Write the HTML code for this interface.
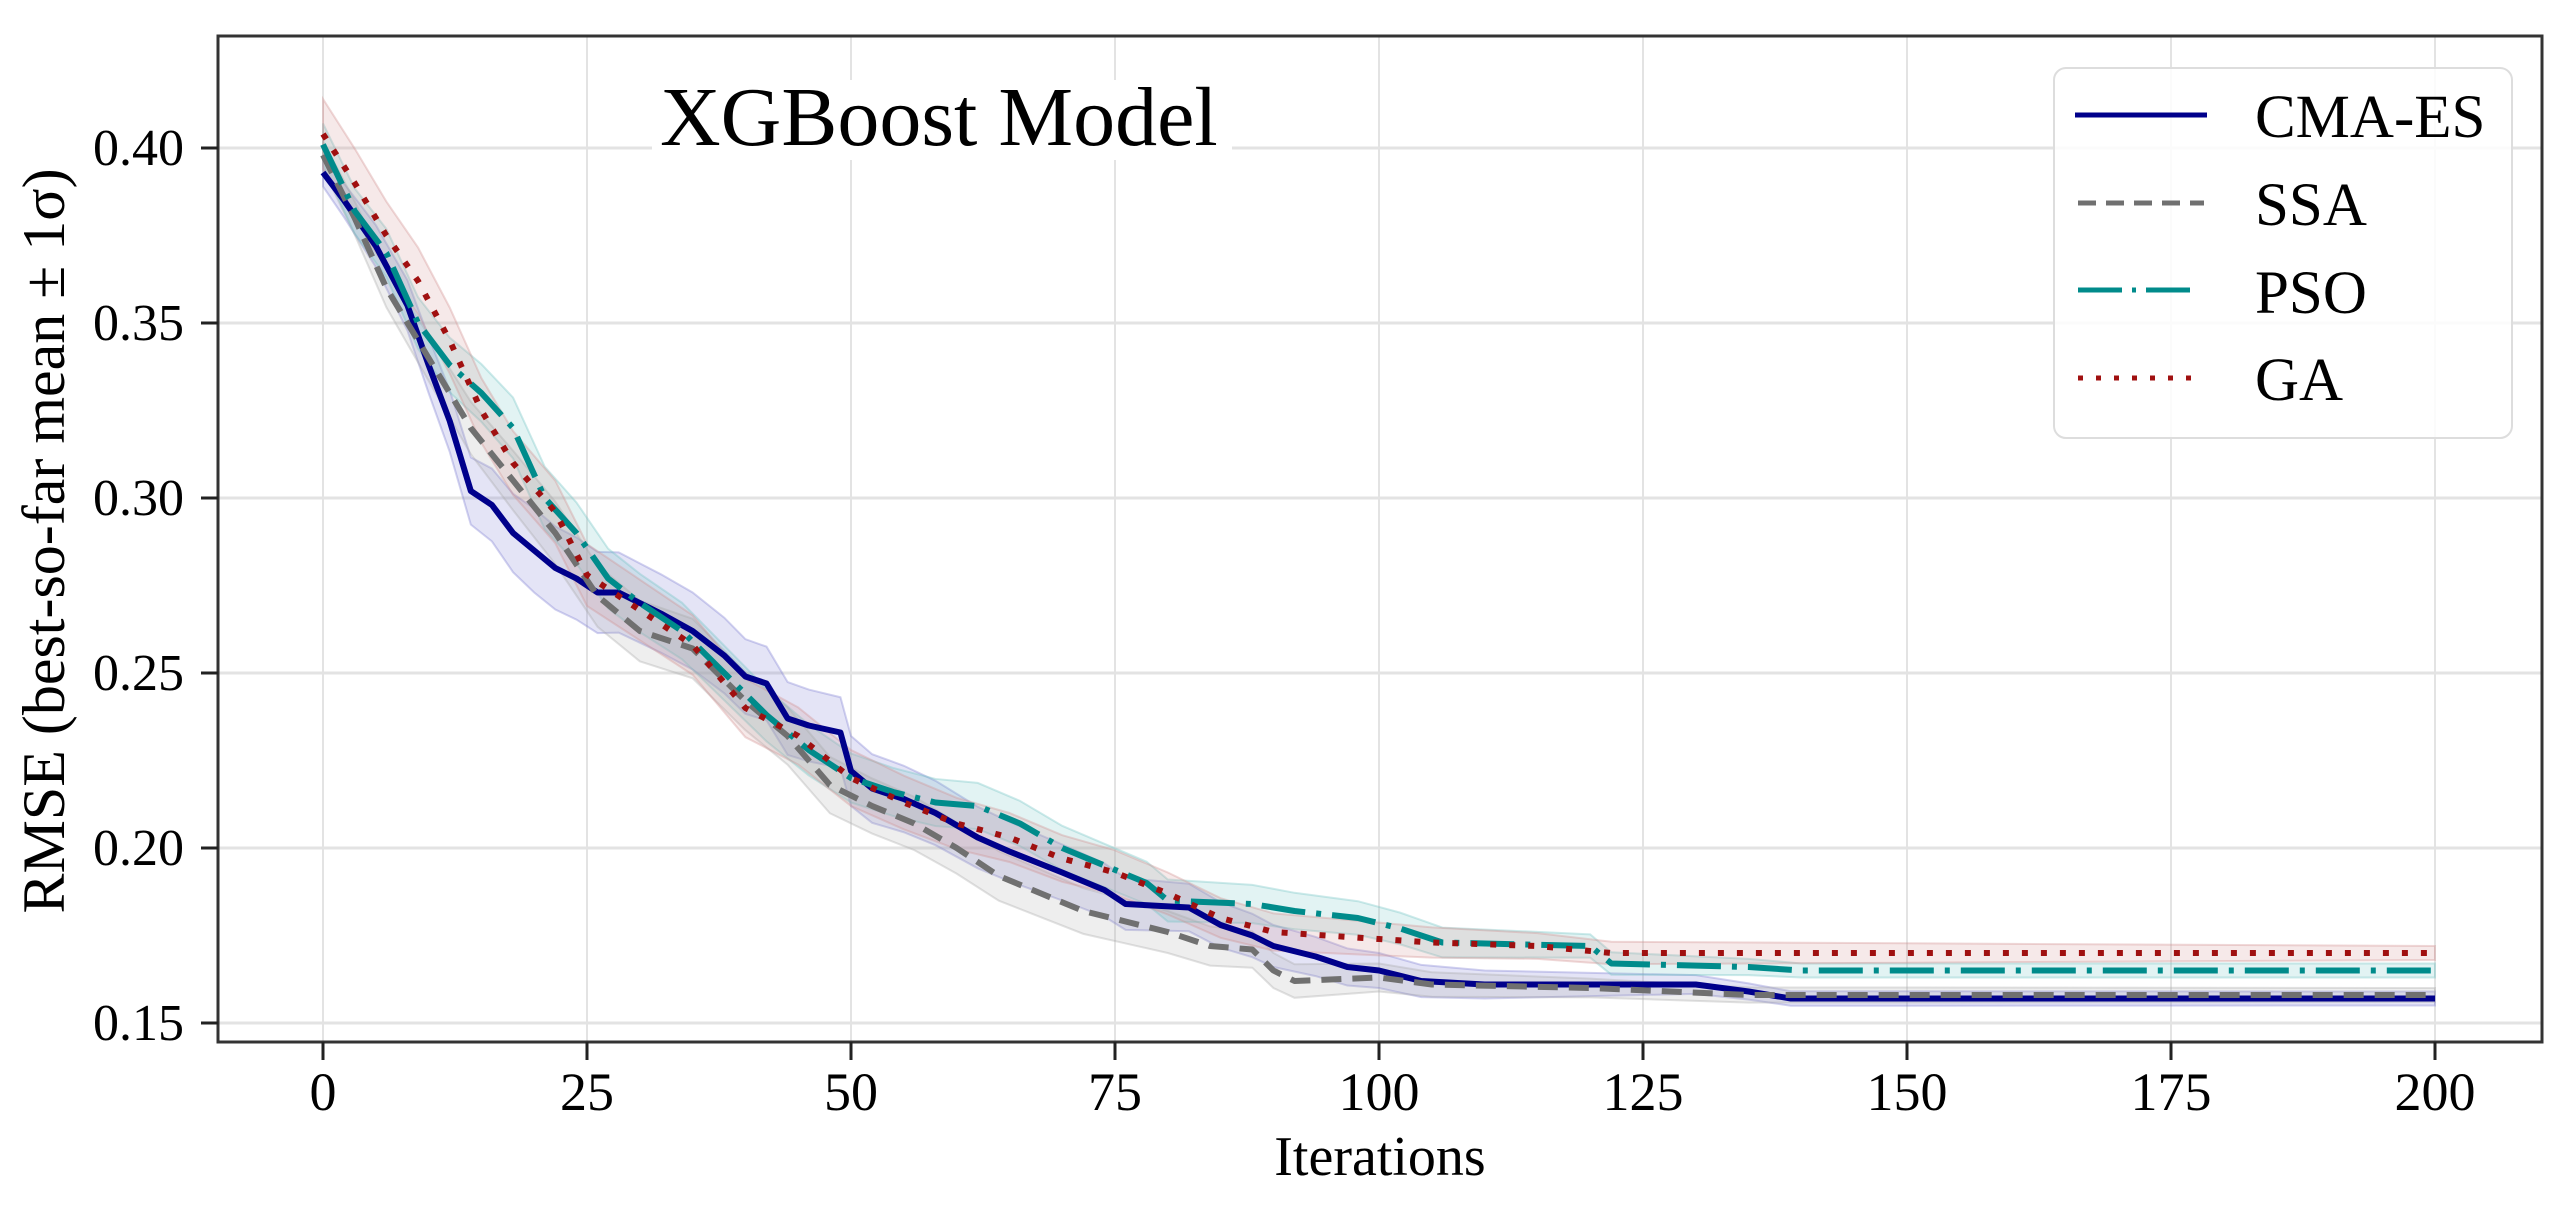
<!DOCTYPE html>
<html><head><meta charset="utf-8"><style>
html,body{margin:0;padding:0;background:#fff;}
svg{display:block;font-family:"Liberation Serif","DejaVu Serif",serif;}
</style></head><body>
<svg id="chart" width="2575" height="1215" viewBox="0 0 2575 1215" xmlns="http://www.w3.org/2000/svg">
<g id="grid"></g>
<g id="bands"></g>
<g id="lines"></g>
<rect x="652" y="80" width="580" height="80" fill="#fff"/>
<text x="660" y="145" font-size="84" fill="#000">XGBoost Model</text>
<rect x="218" y="36" width="2324" height="1006" fill="none" stroke="#333" stroke-width="3"/>
<g id="xticks"></g>
<g id="yticks"></g>
<text x="1380" y="1175" font-size="56" text-anchor="middle">Iterations</text>
<text transform="translate(64,541) rotate(-90)" font-size="60" text-anchor="middle">RMSE (best-so-far mean ± 1σ)</text>
<g>
<rect x="2054" y="68" width="458" height="370" rx="12" fill="#fff" fill-opacity="0.85" stroke="#ddd" stroke-width="2"/>
<line x1="2075" y1="115" x2="2207" y2="115" stroke="#00008b" stroke-width="5"/>
<text x="2255" y="137" font-size="61">CMA-ES</text>
<line x1="2078" y1="203" x2="2204" y2="203" stroke="#707070" stroke-width="5" stroke-dasharray="18,10"/>
<text x="2255" y="225" font-size="61">SSA</text>
<line x1="2078" y1="290" x2="2197" y2="290" stroke="#008b8b" stroke-width="5" stroke-dasharray="44,10,4,10"/>
<text x="2255" y="313" font-size="61">PSO</text>
<line x1="2078" y1="378" x2="2197" y2="378" stroke="#a01010" stroke-width="5" stroke-dasharray="5,13"/>
<text x="2255" y="400" font-size="61">GA</text>
</g>
</svg>
<script>
const xTicks=[0,25,50,75,100,125,150,175,200];
const yTicks=[0.15,0.20,0.25,0.30,0.35,0.40];
const yTickLabels=["0.15","0.20","0.25","0.30","0.35","0.40"];
const cmaX=[0,2,5,8,10,12,14,16,18,20,22,24,26,28,30,32,35,38,40,42,44,46,49,50,52,55,58,62,65,70,74,76,82,85,88,90,94,97,100,104,110,130,135,139,200];
const cmaY=[0.393,0.385,0.372,0.355,0.338,0.322,0.302,0.298,0.29,0.285,0.28,0.277,0.273,0.273,0.27,0.267,0.262,0.255,0.249,0.247,0.237,0.235,0.233,0.222,0.217,0.214,0.21,0.203,0.199,0.193,0.188,0.184,0.183,0.178,0.175,0.172,0.169,0.166,0.165,0.162,0.161,0.161,0.159,0.157,0.157];
const ssaX=[0,3,6,10,14,18,22,26,30,35,40,44,48,52,56,60,64,68,72,76,80,84,88,90,92,100,105,120,135,200];
const ssaY=[0.398,0.38,0.36,0.34,0.32,0.305,0.29,0.272,0.262,0.257,0.242,0.232,0.218,0.212,0.207,0.2,0.192,0.187,0.182,0.179,0.176,0.172,0.171,0.165,0.162,0.163,0.161,0.16,0.158,0.158];
const psoX=[0,3,6,9,12,15,18,21,24,27,30,34,38,42,46,50,54,58,62,66,70,74,78,80,88,92,98,102,106,120,122,135,140,200];
const psoY=[0.401,0.382,0.37,0.35,0.338,0.33,0.32,0.30,0.29,0.277,0.27,0.262,0.25,0.238,0.228,0.22,0.216,0.213,0.212,0.207,0.20,0.195,0.19,0.185,0.184,0.182,0.18,0.177,0.173,0.172,0.167,0.166,0.165,0.165];
const gaX=[0,3,6,9,12,15,18,22,25,30,35,40,45,50,55,60,65,70,75,80,85,90,95,100,105,115,122,200];
const gaY=[0.404,0.39,0.375,0.362,0.345,0.325,0.31,0.296,0.278,0.268,0.258,0.24,0.232,0.22,0.213,0.207,0.203,0.197,0.193,0.187,0.18,0.176,0.175,0.174,0.173,0.172,0.17,0.17];
const sdX=[0,20,50,80,110,140,200];
const cmaSd=[0.004,0.012,0.010,0.007,0.004,0.002,0.002];
const ssaSd=[0.004,0.009,0.008,0.006,0.003,0.002,0.002];
const psoSd=[0.006,0.009,0.007,0.006,0.004,0.002,0.002];
const gaSd=[0.010,0.009,0.008,0.006,0.004,0.002,0.002];

const X=v=>323+(v/200)*2112;
const Y=v=>1023-(v-0.15)/0.05*175;
const NS="http://www.w3.org/2000/svg";
function mk(tag,attrs,parent){const e=document.createElementNS(NS,tag);for(const k in attrs)e.setAttribute(k,attrs[k]);parent.appendChild(e);return e;}
function interp(xs,ys,x){for(let i=0;i<xs.length-1;i++){if(x<=xs[i+1]){const t=(x-xs[i])/(xs[i+1]-xs[i]);return ys[i]+t*(ys[i+1]-ys[i]);}}return ys[ys.length-1];}
const grid=document.getElementById('grid'),xt=document.getElementById('xticks'),yt=document.getElementById('yticks');
xTicks.forEach(t=>{
  const g=mk('line',{x1:X(t),x2:X(t),y1:36,y2:1042,stroke:'#e3e3e3','stroke-width':2},grid);
  
  
  const tk=mk('line',{x1:X(t),x2:X(t),y1:1042,y2:1060,stroke:'#222','stroke-width':3},xt);
  
  
  const tl=mk('text',{x:X(t),y:1110,'font-size':54,'text-anchor':'middle'},xt);
  tl.textContent=String(t);
  
  
});
yTicks.forEach((t,i)=>{
  const g=mk('line',{x1:218,x2:2542,y1:Y(t),y2:Y(t),stroke:'#e3e3e3','stroke-width':3},grid);
  
  
  const tk=mk('line',{x1:201,x2:218,y1:Y(t),y2:Y(t),stroke:'#222','stroke-width':3},yt);
  
  
  const tl=mk('text',{x:184,y:Y(t)+17,'font-size':52,'text-anchor':'end'},yt);
  tl.textContent=yTickLabels[i];
  
  
});
const series=[
 {name:'cma-es',xs:cmaX,ys:cmaY,sd:cmaSd,color:'#00008b',band:'#7a7ad0',dash:'',w:6},
 {name:'ssa',xs:ssaX,ys:ssaY,sd:ssaSd,color:'#707070',band:'#a8a8a8',dash:'20,11',w:6},
 {name:'pso',xs:psoX,ys:psoY,sd:psoSd,color:'#008b8b',band:'#6fc4c4',dash:'44,11,5,11',w:6},
 {name:'ga',xs:gaX,ys:gaY,sd:gaSd,color:'#a01010',band:'#d09090',dash:'6,13',w:6}
];
const bands=document.getElementById('bands'),lines=document.getElementById('lines');
series.forEach(s=>{
  const up=[],dn=[];
  s.xs.forEach((x,i)=>{const d=interp(sdX,s.sd,x);up.push(X(x)+','+Y(s.ys[i]+d));dn.unshift(X(x)+','+Y(s.ys[i]-d));});
  const b=mk('polygon',{points:up.concat(dn).join(' '),fill:s.band,'fill-opacity':0.2,stroke:s.band,'stroke-opacity':0.35,'stroke-width':2},bands);
  
  
});
series.forEach(s=>{
  const pts=s.xs.map((x,i)=>X(x)+','+Y(s.ys[i])).join(' ');
  const l=mk('polyline',{points:pts,fill:'none',stroke:s.color,'stroke-width':s.w,'stroke-dasharray':s.dash||'none','stroke-linejoin':'round'},lines);
  
  
});
</script>
</body></html>
